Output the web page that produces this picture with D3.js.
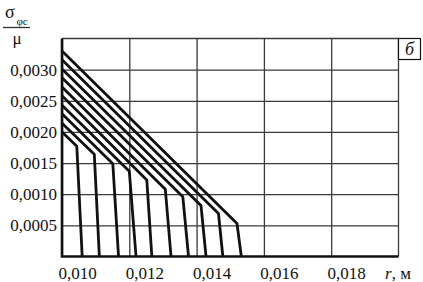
<!DOCTYPE html>
<html>
<head>
<meta charset="utf-8">
<script src="https://cdn.jsdelivr.net/npm/d3@7"></script>
<style>
  body { margin: 0; background: #fff; }
  text { font-family: "Liberation Serif", "DejaVu Serif", serif; fill: #111; }
</style>
</head>
<body>
<div id="chart"></div>
<script>
// curves: each starts on the r = 0.010 axis, runs down the diagonal to a knee, then drops to zero
const startVals = [0.00200, 0.00214, 0.00229, 0.00243, 0.00258, 0.00272, 0.00287, 0.00301, 0.00316, 0.00330];
const kneeR     = [0.01044, 0.01096, 0.01151, 0.01200, 0.01252, 0.01307, 0.01359, 0.01413, 0.01465, 0.01520];
const kneeV     = [0.00177, 0.00164, 0.00149, 0.00137, 0.00123, 0.00108, 0.00096, 0.00082, 0.00069, 0.00053];
const footR     = [0.01060, 0.01111, 0.01168, 0.01220, 0.01267, 0.01324, 0.01376, 0.01428, 0.01478, 0.01533];

const xTicks = [0.010, 0.012, 0.014, 0.016, 0.018];
const yTicks = [0.0005, 0.0010, 0.0015, 0.0020, 0.0025, 0.0030];

const width = 423, height = 282;
const margin = {top: 38.5, right: 24.5, bottom: 25.5, left: 62};

const svg = d3.select("#chart")
              .append("svg")
              .attr("width", width)
              .attr("height", height);

const x = d3.scaleLinear()
            .domain([0.010, 0.020])
            .range([margin.left, width - margin.right]);

const y = d3.scaleLinear()
            .domain([0, 0.0035])
            .range([height - margin.bottom, margin.top]);

const comma = f => (v => d3.format(f)(v).replace(".", ","));

// horizontal grid + y labels
const gy = svg.append("g")
    .attr("transform", `translate(${margin.left},0)`)
    .call(d3.axisLeft(y)
            .tickValues(yTicks)
            .tickSize(-(x.range()[1] - margin.left))
            .tickPadding(5)
            .tickFormat(comma(".4f")));
gy.select(".domain").remove();
gy.selectAll("line").attr("stroke", "#3a3a3a").attr("stroke-width", 1.3);
gy.selectAll("text").attr("font-size", "17px");

// vertical grid + x labels
const gx = svg.append("g")
    .attr("transform", `translate(0,${y(0)})`)
    .call(d3.axisBottom(x)
            .tickValues(xTicks)
            .tickSize(-(y(0) - margin.top))
            .tickPadding(10.5)
            .tickFormat(comma(".3f")));
gx.select(".domain").remove();
gx.selectAll("line").attr("stroke", "#3a3a3a").attr("stroke-width", 1.3);
gx.selectAll("text").attr("font-size", "17px").attr("dx", 15);

// frame: thin top/right, heavy left/bottom
svg.append("path")
   .attr("d", `M${x(0.010)},${y(0.0035)}H${x(0.020)}V${y(0)}`)
   .attr("fill", "none").attr("stroke", "#3a3a3a").attr("stroke-width", 1.3);
svg.append("path")
   .attr("d", `M${x(0.010)},${y(0.0035)}V${y(0)}H${x(0.020)}`)
   .attr("fill", "none").attr("stroke", "#111").attr("stroke-width", 2.6);

// curves
const line = d3.line().x(d => x(d[0])).y(d => y(d[1]));
const curves = startVals.map((s, i) => [[0.010, s], [kneeR[i], kneeV[i]], [footR[i], 0]]);
svg.append("g")
   .selectAll("path")
   .data(curves)
   .enter()
   .append("path")
   .attr("d", line)
   .attr("fill", "none")
   .attr("stroke", "#111")
   .attr("stroke-width", 2.8)
   .attr("stroke-linejoin", "round");

// axis titles
svg.append("text").attr("x", 385).attr("y", 279).attr("font-size", "17px")
   .html('<tspan font-style="italic">r</tspan>, м');

svg.append("text").attr("x", 5).attr("y", 18).attr("font-size", "18px").text("σ");
svg.append("text").attr("x", 16.5).attr("y", 24.5).attr("font-size", "11px").text("φс");
svg.append("line").attr("x1", 3).attr("x2", 30).attr("y1", 27.5).attr("y2", 27.5)
   .attr("stroke", "#333").attr("stroke-width", 1.3);
svg.append("text").attr("x", 17).attr("y", 44).attr("font-size", "17px")
   .attr("text-anchor", "middle").text("μ");

// panel letter
svg.append("rect").attr("x", 398.5).attr("y", 38.5).attr("width", 22).attr("height", 21)
   .attr("fill", "#fff").attr("stroke", "#111").attr("stroke-width", 1.2);
svg.append("text").attr("x", 409.5).attr("y", 55).attr("font-size", "18px")
   .attr("text-anchor", "middle").attr("font-style", "italic").text("б");
</script>
</body>
</html>
